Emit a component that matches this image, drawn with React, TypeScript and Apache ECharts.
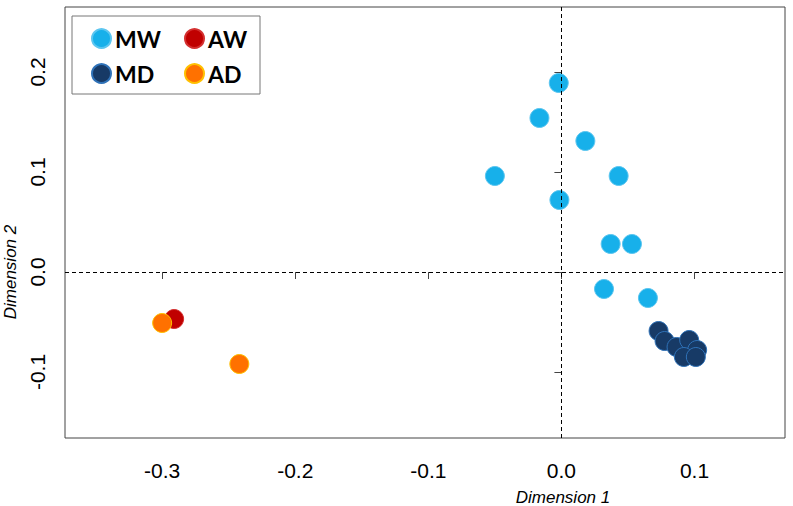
import React, { useEffect, useRef } from "react";
import * as echarts from "echarts";

const xTicks = [-0.3, -0.2, -0.1, 0.0, 0.1];
const yTicks = [-0.1, 0.0, 0.1, 0.2];

const mwPoints = [
  [-0.002, 0.189], [-0.0165, 0.154], [0.018, 0.131], [-0.05, 0.096],
  [0.043, 0.096], [-0.0015, 0.072], [0.037, 0.028], [0.053, 0.028],
  [0.032, -0.017], [0.065, -0.026],
];
const mdPoints = [
  [0.073, -0.059], [0.0775, -0.069], [0.0865, -0.075], [0.096, -0.068],
  [0.102, -0.078], [0.092, -0.085], [0.101, -0.085],
];
const awPoints = [[-0.291, -0.047]];
const adPoints = [[-0.3, -0.051], [-0.242, -0.092]];

const tickFont = "'Liberation Sans', Arial, sans-serif";
const legendFont = "Lato, 'Open Sans', sans-serif";

export default function App() {
  const ref = useRef<HTMLDivElement>(null);
  useEffect(() => {
    if (!ref.current) return;
    const chart = echarts.init(ref.current, undefined, { renderer: "svg" });
    const legendCommon = {
      orient: "vertical" as const,
      top: 27,
      padding: 0,
      itemGap: 12,
      itemWidth: 19,
      itemHeight: 19,
      icon: "circle",
      z: 10,
      textStyle: {
        fontFamily: legendFont,
        fontWeight: "bold" as const,
        fontSize: 23,
        color: "#000",
        padding: [0, 0, 0, -1],
      },
    };
    chart.setOption({
      animation: false,
      grid: {
        left: 65,
        right: 8,
        top: 7,
        bottom: 68,
        show: true,
        borderColor: "#444",
        borderWidth: 1,
      },
      xAxis: {
        type: "value",
        min: -0.373,
        max: 0.168,
        splitLine: { show: false },
        axisLine: { show: false },
        axisTick: { show: true, length: 7, customValues: xTicks, lineStyle: { color: "#444" } },
        axisLabel: {
          customValues: xTicks,
          formatter: (v: number) => v.toFixed(1),
          margin: 22,
          fontFamily: tickFont,
          fontSize: 21,
          color: "#000",
        },
      },
      yAxis: {
        type: "value",
        min: -0.166,
        max: 0.265,
        splitLine: { show: false },
        axisLine: { show: false },
        axisTick: { show: true, length: 7, customValues: yTicks, lineStyle: { color: "#444" } },
        axisLabel: {
          customValues: yTicks,
          formatter: (v: number) => v.toFixed(1),
          rotate: 90,
          margin: 17,
          fontFamily: tickFont,
          fontSize: 21,
          color: "#000",
        },
      },
      legend: [
        { ...legendCommon, left: 91, data: ["MW", "MD"] },
        { ...legendCommon, left: 184, data: ["AW", "AD"] },
      ],
      graphic: [
        {
          type: "rect",
          z: 5,
          shape: { x: 72, y: 16, width: 188, height: 78 },
          style: { fill: "#fff", stroke: "#777", lineWidth: 1 },
        },
        {
          type: "text",
          x: 563,
          y: 497,
          style: {
            text: "Dimension 1",
            font: "italic 17px " + tickFont,
            fill: "#000",
            align: "center",
            verticalAlign: "middle",
          },
        },
        {
          type: "text",
          x: 10,
          y: 272,
          rotation: Math.PI / 2,
          style: {
            text: "Dimension 2",
            font: "italic 17px " + tickFont,
            fill: "#000",
            align: "center",
            verticalAlign: "middle",
          },
        },
      ],
      series: [
        {
          name: "MW",
          type: "scatter",
          data: mwPoints,
          symbolSize: 19,
          itemStyle: { color: "#17b0ea", borderColor: "#5cc6f0", borderWidth: 1, opacity: 1 },
          markLine: {
            silent: true,
            symbol: ["none", "none"],
            label: { show: false },
            lineStyle: { type: [4, 3], color: "#000", width: 1 },
            data: [{ xAxis: 0 }, { yAxis: 0 }],
          },
        },
        {
          name: "MD",
          type: "scatter",
          data: mdPoints,
          symbolSize: 19,
          itemStyle: { color: "#173a66", borderColor: "#2f72b8", borderWidth: 1, opacity: 1 },
        },
        {
          name: "AW",
          type: "scatter",
          data: awPoints,
          symbolSize: 19,
          itemStyle: { color: "#c00000", borderColor: "#d43030", borderWidth: 1, opacity: 1 },
        },
        {
          name: "AD",
          type: "scatter",
          data: adPoints,
          symbolSize: 19,
          itemStyle: { color: "#ff7100", borderColor: "#ffc000", borderWidth: 1, opacity: 1 },
        },
      ],
    });
    return () => chart.dispose();
  }, []);
  return <div ref={ref} style={{ width: 793, height: 506, position: "absolute", left: 0, top: 0 }} />;
}
